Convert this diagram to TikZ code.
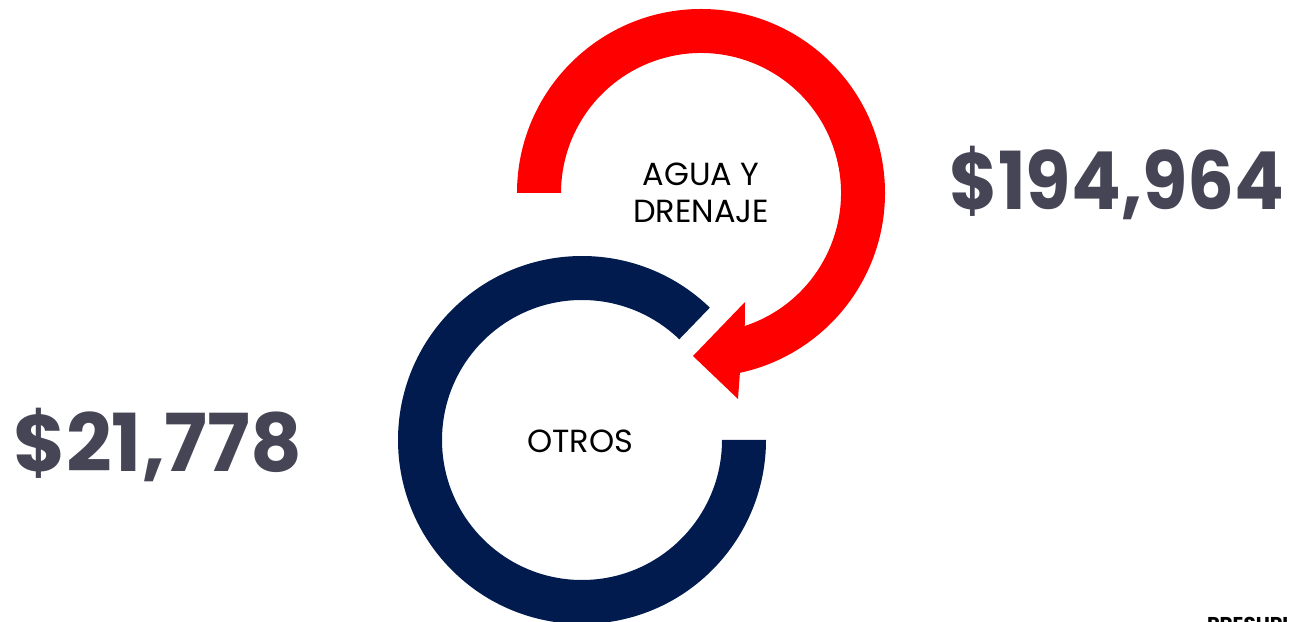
\documentclass[tikz,border=0pt]{standalone}
\usepackage{fontspec}
\setmainfont{Poppins}
\usepackage{tikz}
\definecolor{aguared}{HTML}{FF0000}
\definecolor{otrosblue}{HTML}{011B4E}
\definecolor{montogray}{HTML}{454556}

\begin{document}
\begin{tikzpicture}[x=1pt, y=1pt, every node/.style={inner sep=0pt, align=center},
  ringtext/.style={font=\fontsize{32}{37}\selectfont, text=black},
  amount/.style={font=\fontsize{80}{90}\selectfont\bfseries, text=montogray}]

\def\outerr{184}
\def\innerr{140}

\useasboundingbox (0,0) rectangle (1289,621);
\clip (0,0) rectangle (1289,621);

  % Centres
  \coordinate (redc) at (701,428);
  \coordinate (bluec) at (582,181);

  % Red arrow
  \fill[aguared] ([shift={(180:\outerr)}]redc) arc[start angle=180, end angle=-77.8, radius=\outerr]
    -- (738,222) -- (693,265) -- (745,319)
    -- ([shift={(-71.8:\innerr)}]redc) arc[start angle=-71.8, end angle=180, radius=\innerr] -- cycle;

  % Blue ring
  \fill[otrosblue] ([shift={(46:\outerr)}]bluec) arc[start angle=46, end angle=360, radius=\outerr]
    -- ([shift={(0:\innerr)}]bluec) arc[start angle=360, end angle=46, radius=\innerr] -- cycle;

  % Nodes
  \node (agua) [ringtext] at (701,428.5) {AGUA Y\\DRENAJE};
  \node (otros) [ringtext] at (580,179.5) {OTROS};
  \node (aguamonto) [amount, anchor=base, xscale=0.92, transform shape] at (1117,411) {\$194,964};
  \node (otrosmonto) [amount, anchor=base] at (158,149) {\$21,778};
  \node (presu) [anchor=north west, font=\fontsize{20}{24}\selectfont\bfseries] at (1207,4) {PRESUPUESTO};

\end{tikzpicture}
\end{document}
